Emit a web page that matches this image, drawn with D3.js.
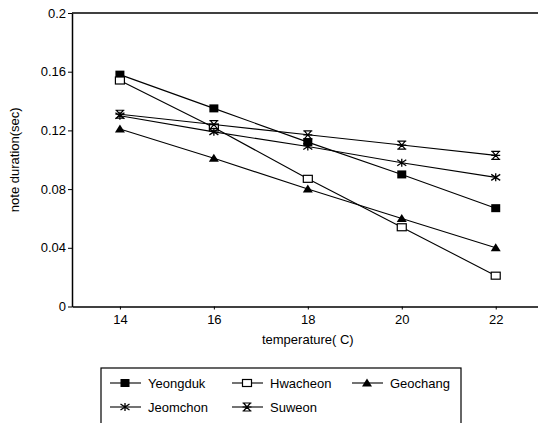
<!DOCTYPE html>
<html><head><meta charset="utf-8">
<script src="https://cdn.jsdelivr.net/npm/d3@7"></script>
<style>
body{margin:0;background:#fff;}
svg{display:block;font-family:"Liberation Sans",Arial,sans-serif;}
</style></head>
<body><svg id="c" width="538" height="423"></svg>
<script>
const temps = [14, 16, 18, 20, 22];
const yTicks = [0, 0.04, 0.08, 0.12, 0.16, 0.2];
const yTickLabels = ["0", "0.04", "0.08", "0.12", "0.16", "0.2"];
const seriesNames = ["Yeongduk", "Hwacheon", "Geochang", "Jeomchon", "Suweon"];
const yeongduk = [0.158, 0.135, 0.112, 0.090, 0.067];
const hwacheon = [0.154, 0.122, 0.087, 0.054, 0.021];
const geochang = [0.121, 0.101, 0.080, 0.060, 0.040];
const jeomchon = [0.130, 0.119, 0.109, 0.098, 0.088];
const suweon = [0.131, 0.124, 0.117, 0.110, 0.103];
const seriesValues = [yeongduk, hwacheon, geochang, jeomchon, suweon];
const markers = ["fsquare", "osquare", "triangle", "asterisk", "hourglass"];

const svg = d3.select("#c");
const pLeft = 72, pRight = 538, pTop = 13, pBottom = 306.5;
const x = d3.scaleLinear().domain([12.98, 22.9]).range([pLeft, pRight]);
const y = d3.scaleLinear().domain([0, 0.2]).range([pBottom, pTop]);

svg.append("line").attr("x1", pLeft).attr("x2", pRight).attr("y1", pTop).attr("y2", pTop)
  .attr("stroke", "#000").attr("stroke-width", 1.3);

const yAxis = d3.axisLeft(y).tickValues(yTicks).tickFormat((d, i) => yTickLabels[i]).tickSize(4).tickSizeOuter(0).tickPadding(2);
const gy = svg.append("g").attr("transform", `translate(${pLeft},0)`).call(yAxis);
gy.select(".domain").attr("stroke-width", 1.5);
gy.selectAll("text").attr("font-size", 13).attr("fill", "#000");

const xAxis = d3.axisBottom(x).tickValues(temps).tickSize(3).tickSizeOuter(0).tickPadding(5);
const gx = svg.append("g").attr("transform", `translate(0,${pBottom})`).call(xAxis);
gx.select(".domain").attr("stroke-width", 1.5);
gx.selectAll("text").attr("font-size", 13).attr("fill", "#000");

svg.append("text").attr("x", x(18)).attr("y", 344).attr("text-anchor", "middle")
  .attr("font-size", 13).text("temperature( C)");
svg.append("text").attr("transform", `translate(19,${(pTop + pBottom) / 2}) rotate(-90)`)
  .attr("text-anchor", "middle").attr("font-size", 13).text("note duration(sec)");

function drawMarker(g, type, cx, cy) {
  const s = g.append("g").attr("transform", `translate(${cx},${cy})`);
  if (type === "fsquare") {
    s.append("rect").attr("x", -4.5).attr("y", -4).attr("width", 9).attr("height", 8).attr("fill", "#000");
  } else if (type === "osquare") {
    s.append("rect").attr("x", -4.5).attr("y", -3.5).attr("width", 9).attr("height", 7)
      .attr("fill", "#fff").attr("stroke", "#000").attr("stroke-width", 1.2);
  } else if (type === "triangle") {
    s.append("path").attr("d", "M0,-4.5L5,3.5L-5,3.5Z").attr("fill", "#000");
  } else if (type === "asterisk") {
    s.append("path").attr("d", "M-4.5,-3L4.5,3M-4.5,3L4.5,-3M0,-4L0,4")
      .attr("stroke", "#000").attr("stroke-width", 1.3).attr("fill", "none");
  } else if (type === "hourglass") {
    s.append("path").attr("d", "M-4.5,-4L4.5,-4M-4.5,4L4.5,4M-3.5,-4L3.5,4M3.5,-4L-3.5,4M-4.5,0L4.5,0")
      .attr("stroke", "#000").attr("stroke-width", 1.2).attr("fill", "none");
  }
}

const line = d3.line().x((d, i) => x(temps[i])).y(d => y(d));
seriesValues.forEach((vals) => {
  svg.append("path").attr("d", line(vals)).attr("fill", "none").attr("stroke", "#000").attr("stroke-width", 1.1);
});
seriesValues.forEach((vals, k) => {
  vals.forEach((v, i) => drawMarker(svg, markers[k], x(temps[i]), y(v)));
});

const lg = svg.append("g");
lg.append("rect").attr("x", 101).attr("y", 368).attr("width", 360).attr("height", 60)
  .attr("fill", "none").attr("stroke", "#000").attr("stroke-width", 1.2);
const legendPos = [[110, 383], [232, 383], [352, 383], [110, 407], [232, 407]];
seriesNames.forEach((name, k) => {
  const [lx, ly] = legendPos[k];
  lg.append("line").attr("x1", lx).attr("x2", lx + 31).attr("y1", ly).attr("y2", ly)
    .attr("stroke", "#000").attr("stroke-width", 1.1);
  drawMarker(lg, markers[k], lx + 15, ly);
  lg.append("text").attr("x", lx + 38).attr("y", ly + 5).attr("font-size", 13).text(name);
});
</script></body></html>
